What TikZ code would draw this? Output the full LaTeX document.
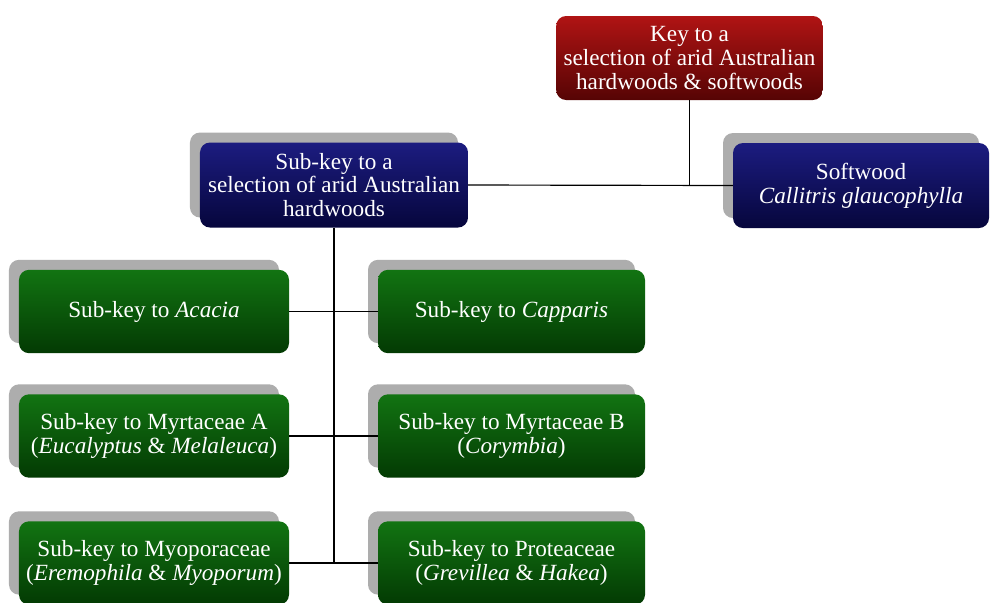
\documentclass[tikz,border=0pt]{standalone}
\usepackage{fontspec}
\setmainfont{Liberation Serif}
\usetikzlibrary{shapes, shadows, positioning}
\usepackage{xcolor}

\definecolor{keyred}{HTML}{B01414}
\definecolor{keyreddark}{HTML}{560404}
\definecolor{subblue}{HTML}{1C1C80}
\definecolor{subbluedark}{HTML}{06063C}
\definecolor{subgreen}{HTML}{127412}
\definecolor{subgreendark}{HTML}{033A03}

\begin{document}
\begin{tikzpicture}[x=0.03cm, y=-0.03cm,
        box/.style={rectangle, rounded corners=0.3cm, text=white, align=center,
            font=\fontsize{19.8}{20.4}\selectfont, inner sep=2pt},
        shade/.style={drop shadow={shadow xshift=-0.3cm, shadow yshift=0.3cm, fill=black!32, opacity=1}},
        keybox/.style={box, top color=keyred, bottom color=keyreddark, minimum width=8cm, minimum height=2.52cm},
        bluebox/.style={box, shade, top color=subblue, bottom color=subbluedark, minimum height=2.55cm},
        greenbox/.style={box, shade, top color=subgreen, bottom color=subgreendark, minimum height=2.5cm},
        link/.style={draw, line width=1pt}
    ]

        % Page frame
        \clip (0,0) rectangle (990,602);
        \fill[white] (0,0) rectangle (990,602);

        % Main key
        \node[keybox] (key) at (689.5, 58) {Key to a\\selection of arid Australian\\hardwoods \& softwoods};

        % Hardwood and softwood
        \node[bluebox, minimum width=8.04cm] (hard) at (334, 185) {Sub-key to a\\selection of arid Australian\\hardwoods};
        \node[bluebox, minimum width=7.68cm] (soft) at (861, 185.5) {Softwood\\\textit{Callitris glaucophylla}};

        % Sub-keys, left column
        \node[greenbox, minimum width=8.1cm] (acacia) at (154, 311.5) {Sub-key to \textit{Acacia}};
        \node[greenbox, minimum width=8.1cm] (myrtA) at (154, 436) {Sub-key to Myrtaceae A\\(\textit{Eucalyptus} \& \textit{Melaleuca})};
        \node[greenbox, minimum width=8.1cm] (myo) at (154, 563) {Sub-key to Myoporaceae\\(\textit{Eremophila} \& \textit{Myoporum})};

        % Sub-keys, right column
        \node[greenbox, minimum width=8.01cm] (capparis) at (511.5, 311.5) {Sub-key to \textit{Capparis}};
        \node[greenbox, minimum width=8.01cm] (myrtB) at (511.5, 436) {Sub-key to Myrtaceae B\\(\textit{Corymbia})};
        \node[greenbox, minimum width=8.01cm] (prot) at (511.5, 563) {Sub-key to Proteaceae\\(\textit{Grevillea} \& \textit{Hakea})};

        % Connectors
        \draw[link] (key.south) -- (key.south |- hard.east);
        \draw[link] (hard.east) -- (soft.west);
        \draw[link] (hard.south) -- (hard.south |- myo.east);
        \draw[link] (acacia.east) -- (capparis.west);
        \draw[link, line width=2pt] (myrtA.east) -- (myrtB.west);
        \draw[link] (myo.east) -- (prot.west);

    \end{tikzpicture}
\end{document}
